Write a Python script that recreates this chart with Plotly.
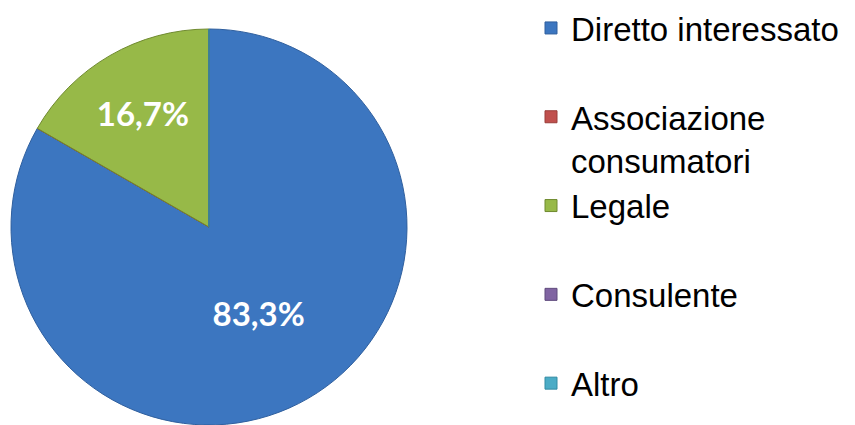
import plotly.graph_objects as go

categories = ["Diretto interessato", "Associazione<br>consumatori", "Legale", "Consulente", "Altro"]
values = [83.3, 0.0, 16.7, 0.0, 0.0]
text_labels = ["83,3%", "", "16,7%", "", ""]
colors = ["#3C76C0", "#C0504D", "#97B948", "#8064A2", "#4BACC6"]
line_colors = ["#2F5F9E", "#9A3C39", "#6F8A2F", "#5F4A7C", "#338BA3"]

# pad single-line legend labels (except the last) with an empty second line so the legend slots match
legend_labels = [
    c if ("<br>" in c or i == len(categories) - 1) else c + "<br>\u00a0"
    for i, c in enumerate(categories)
]

fig = go.Figure(
    go.Pie(
        labels=legend_labels,
        values=values,
        text=text_labels,
        textinfo="text",
        textposition="inside",
        insidetextorientation="horizontal",
        sort=False,
        direction="clockwise",
        rotation=0,
        marker=dict(colors=colors, line=dict(color=line_colors, width=1)),
        insidetextfont=dict(family="Lato, Open Sans, sans-serif", size=33, color="white", weight="bold"),
        domain=dict(x=[10 / 855, 408 / 855], y=[0, 396 / 425]),
        showlegend=True,
        hoverinfo="label+percent",
    )
)

fig.update_layout(
    width=855,
    height=425,
    margin=dict(l=0, r=0, t=0, b=0),
    paper_bgcolor="white",
    plot_bgcolor="white",
    legend=dict(
        x=531 / 855,
        xanchor="left",
        y=1,
        yanchor="top",
        font=dict(family="Liberation Sans, Arial, sans-serif", size=33, color="black"),
        bgcolor="rgba(0,0,0,0)",
        valign="top",
        traceorder="normal",
    ),
)

fig.write_html("out.html")
